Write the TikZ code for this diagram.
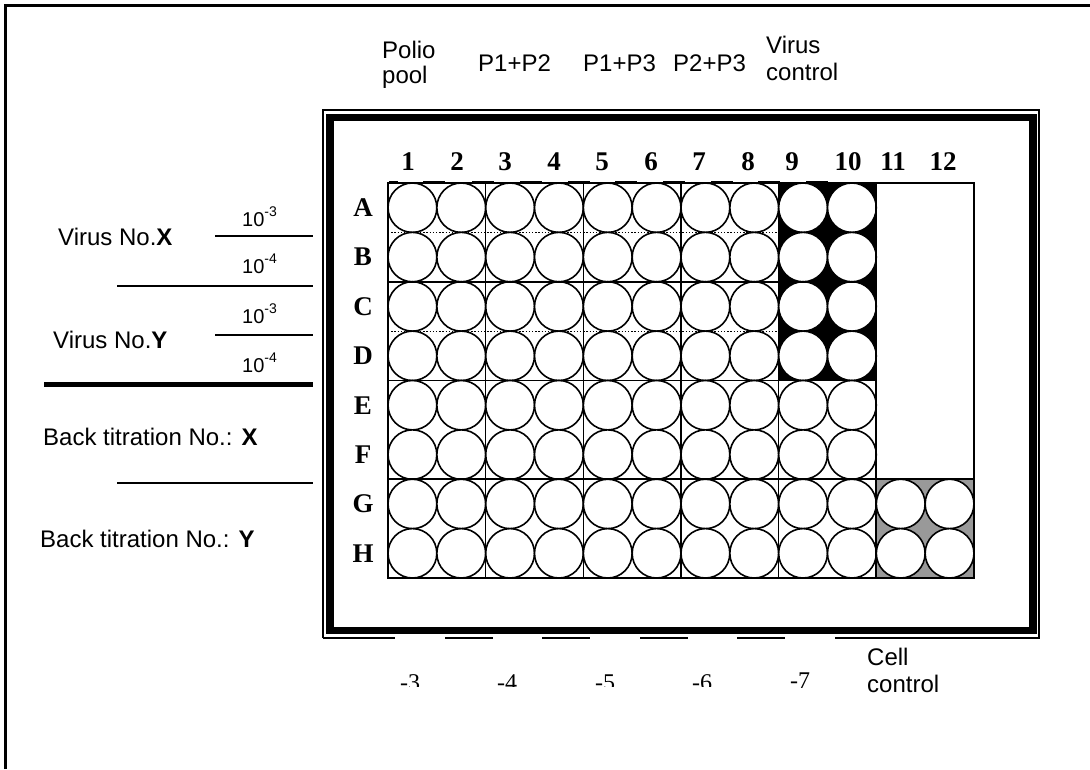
\documentclass[tikz,border=0pt]{standalone}
\usepackage{fontspec}
\setmainfont{Liberation Serif}
\newfontfamily\arial{Liberation Sans}
\definecolor{ccgrey}{RGB}{153,153,153}
\begin{document}
\begin{tikzpicture}[x=1pt,y=-1pt,
  lab/.style={font=\arial\fontsize{24}{27}\selectfont, inner sep=0pt},
  dilx/.style={font=\arial\fontsize{20}{22}\selectfont, inner sep=0pt},
  coln/.style={font=\bfseries\fontsize{27}{30}\selectfont, inner sep=0pt},
  rown/.style={font=\bfseries\fontsize{27}{30}\selectfont, inner sep=0pt},
  dilb/.style={font=\fontsize{24}{27}\selectfont, inner sep=0pt},
  well/.style={draw=black, fill=white, line width=1.6pt},
  gline/.style={line width=1.5pt},
  dotline/.style={line width=1.1pt, dash pattern=on 1.4pt off 1.8pt},
  sepline/.style={line width=1.6pt},
  topdash/.style={line width=2.4pt},
]
\useasboundingbox (0,0) rectangle (1090,769);
\fill[white] (0,0) rectangle (1090,769);
% page frame
\draw[line width=3pt] (5.5,769) -- (5.5,5.5) -- (1090,5.5);

% plate frame
\draw[line width=7.5pt] (330,117.5) rectangle (1033,630.5);
\draw[line width=1.4pt] (323,638) -- (323,110) -- (1039,110) -- (1039,638);
\foreach \a/\b in {323/395,445/493,542/590,640/688,737/785,835/1039.7}
  \draw[line width=2.2pt] (\a,638) -- (\b,638);

% coloured areas
\fill[black] (778.7,183) rectangle (876,380.5);
\fill[ccgrey] (876,479) rectangle (974,578);

% wells
\foreach \c in {0,...,11}{
  \foreach \r in {0,...,7}{
    \pgfmathtruncatemacro\skipwell{and(\c>9,\r<6)}
    \ifnum\skipwell=0
      \draw[well] ({388+(\c+0.5)*48.83},{183+(\r+0.5)*49.375}) ellipse [x radius=24.4pt, y radius=24.7pt];
    \fi
  }
}

% grid lines
\draw[gline] (388,183) rectangle (974,578);
\foreach \x in {485.7,583.3,681,778.7,876}
  \draw[gline] (\x,183) -- (\x,578);
\draw[gline] (388,282) -- (876,282);
\draw[gline] (388,380.5) -- (876,380.5);
\draw[gline] (388,479) -- (974,479);
\draw[dotline] (388,232.4) -- (778.7,232.4);
\draw[dotline] (388,331.1) -- (778.7,331.1);
% short thick marks on the top edge
\draw[topdash] (389,182) -- (398,182);
\foreach \m in {434,483,531,579,626,674,722,769,817}
  \draw[topdash] (\m-11,182) -- (\m+11,182);

% column numbers
\foreach \n/\x in {1/408,2/457,3/505,4/554,5/602,6/651,7/699,8/748,9/792,10/848,11/893,12/943}
  \node[coln, anchor=base] (col\n) at (\x,170) {\n};
% row letters
\foreach \l [count=\i from 0] in {A,B,C,D,E,F,G,H}
  \node[rown] (row\l) at (363,{183+(\i+0.5)*49.375}) {\l};

% top labels
\node[lab, anchor=base west] (polio) at (382,58) {Polio};
\node[lab, anchor=base west] (pool) at (382,83) {pool};
\node[lab, anchor=base west] (p12) at (478,71) {P1+P2};
\node[lab, anchor=base west] (p13) at (583,71) {P1+P3};
\node[lab, anchor=base west] (p23) at (673,71) {P2+P3};
\node[lab, anchor=base west] (vc1) at (766,53) {Virus};
\node[lab, anchor=base west] (vc2) at (766,80) {control};

% bottom labels
\begin{scope}
  \clip (380,600) rectangle (760,686.5);
  \node[dilb, anchor=base] (dm3) at (410,690) {-3};
  \node[dilb, anchor=base] (dm4) at (507,690) {-4};
  \node[dilb, anchor=base] (dm5) at (605,690) {-5};
  \node[dilb, anchor=base] (dm6) at (702,690) {-6};
\end{scope}
\node[dilb, anchor=base] (dm7) at (800,688) {-7};
\node[lab, anchor=base west] (cc1) at (867,665) {Cell};
\node[lab, anchor=base west] (cc2) at (867,692) {control};

% left labels
\node[lab, anchor=base west] (vx) at (58,245) {Virus No.\textbf{X}};
\node[lab, anchor=base west] (vy) at (53,348) {Virus No.\textbf{Y}};
\node[dilx, anchor=base west] (x3) at (242,226) {10\raisebox{0.5em}{\fontsize{14}{14}\selectfont -3}};
\node[dilx, anchor=base west] (x4) at (242,273) {10\raisebox{0.5em}{\fontsize{14}{14}\selectfont -4}};
\node[dilx, anchor=base west] (y3) at (242,323) {10\raisebox{0.5em}{\fontsize{14}{14}\selectfont -3}};
\node[dilx, anchor=base west] (y4) at (242,372) {10\raisebox{0.5em}{\fontsize{14}{14}\selectfont -4}};
\node[lab, anchor=base west] (btx) at (43,445) {Back titration No.: \textbf{X}};
\node[lab, anchor=base west] (bty) at (40,547) {Back titration No.: \textbf{Y}};

\coordinate (l1a) at (215,236); \coordinate (l1b) at (313,236);
\coordinate (l2a) at (117,286); \coordinate (l2b) at (313,286);
\coordinate (l3a) at (215,335); \coordinate (l3b) at (313,335);
\coordinate (l4a) at (44,384.5); \coordinate (l4b) at (313,384.5);
\coordinate (l5a) at (117,483); \coordinate (l5b) at (313,483);
\draw[sepline] (l1a) -- (l1b);
\draw[sepline] (l2a) -- (l2b);
\draw[sepline] (l3a) -- (l3b);
\draw[line width=5pt] (l4a) -- (l4b);
\draw[sepline] (l5a) -- (l5b);
\end{tikzpicture}
\end{document}
